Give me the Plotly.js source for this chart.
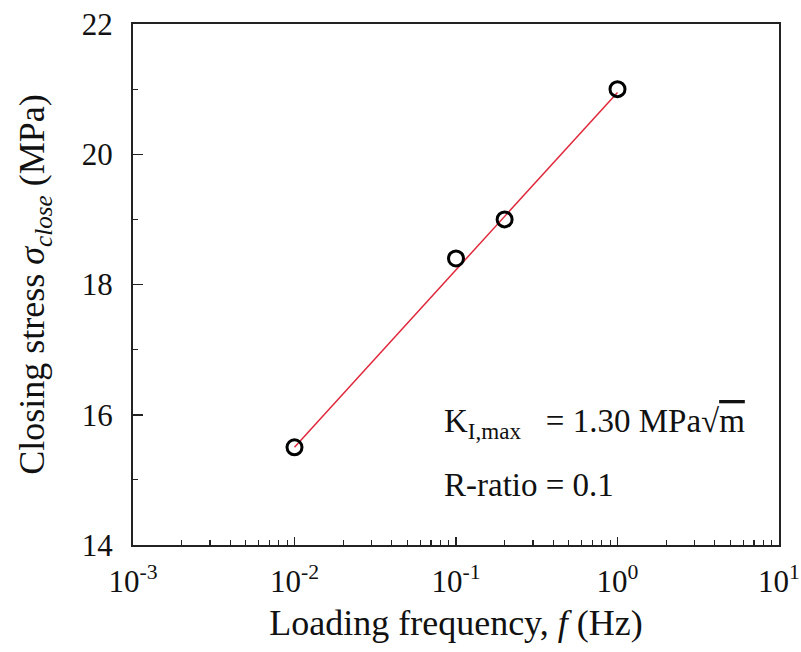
<!DOCTYPE html>
<html>
<head>
<meta charset="utf-8">
<script src="https://cdn.plot.ly/plotly-3.0.1.min.js"></script>
<style>html,body{margin:0;padding:0;background:#fff;}#chart{width:801px;height:652px;}</style>
</head>
<body>
<div id="chart"></div>
<script>
// Data
const frequency = [0.01, 0.1, 0.2, 1];
const closingStress = [15.5, 18.4, 19.0, 21.0];
const fitFrequency = [0.01, 1];
const fitStress = [15.5, 20.95];
const xTickVals = [0.001, 0.01, 0.1, 1, 10];
const xTickText = ['10<sup>-3</sup>', '10<sup>-2</sup>', '10<sup>-1</sup>', '10<sup>0</sup>', '10<sup>1</sup>'];
const yTickVals = [14, 16, 18, 20, 22];

const xMinor = [];
for (let d = -3; d < 1; d++) {
  for (let m = 2; m <= 9; m++) xMinor.push(m * Math.pow(10, d));
}

const FONT = 'Liberation Serif';

const traces = [
  {
    x: fitFrequency, y: fitStress, type: 'scatter', mode: 'lines',
    line: {color: '#e0283c', width: 1.5}, hoverinfo: 'skip', showlegend: false
  },
  {
    x: frequency, y: closingStress, type: 'scatter', mode: 'markers',
    marker: {symbol: 'circle-open', size: 15, color: '#000', line: {width: 3, color: '#000'}},
    showlegend: false
  }
];

const layout = {
  width: 801, height: 652,
  margin: {l: 133, r: 22, t: 24, b: 107},
  paper_bgcolor: '#fff', plot_bgcolor: '#fff',
  font: {family: FONT, color: '#111', size: 31},
  showlegend: false,
  xaxis: {
    type: 'log', range: [-3, 1],
    tickmode: 'array', tickvals: xTickVals, ticktext: xTickText,
    ticks: 'inside', ticklen: 8, tickwidth: 1.5, tickcolor: '#222',
    minor: {tickmode: 'array', tickvals: xMinor, ticks: 'inside', ticklen: 5, tickwidth: 1.2, tickcolor: '#222', showgrid: false},
    showline: true, linecolor: '#222', linewidth: 2, mirror: true,
    showgrid: false, zeroline: false,
    tickfont: {family: FONT, size: 31, color: '#111'},
    ticklabelstandoff: 8,
    title: {text: 'Loading frequency, <i>f</i> (Hz)', font: {family: FONT, size: 36, color: '#111'}, standoff: 12}
  },
  yaxis: {
    range: [14, 22],
    tickmode: 'array', tickvals: yTickVals,
    ticks: 'inside', ticklen: 10, tickwidth: 1.5, tickcolor: '#222',
    minor: {dtick: 1, ticks: 'inside', ticklen: 5, tickwidth: 1.2, tickcolor: '#222', showgrid: false},
    showline: true, linecolor: '#222', linewidth: 2, mirror: true,
    showgrid: false, zeroline: false,
    tickfont: {family: FONT, size: 31, color: '#111'},
    ticklabelstandoff: 12,
    title: {text: 'Closing stress <i>σ</i><sub><i>close</i></sub> (MPa)', font: {family: FONT, size: 36, color: '#111'}, standoff: 26}
  },
  annotations: [
    {
      xref: 'paper', yref: 'paper', x: 0.478, y: 0.234, xanchor: 'left', yanchor: 'middle',
      text: 'K<sub>I,max</sub>   = 1.30 MPa√<span style="text-decoration:overline">m</span>',
      showarrow: false, font: {family: FONT, size: 33, color: '#111'}
    },
    {
      xref: 'paper', yref: 'paper', x: 0.478, y: 0.115, xanchor: 'left', yanchor: 'middle',
      text: 'R-ratio = 0.1',
      showarrow: false, font: {family: FONT, size: 33, color: '#111'}
    }
  ]
};

Plotly.newPlot('chart', traces, layout, {displayModeBar: false, staticPlot: true});
</script>
</body>
</html>
